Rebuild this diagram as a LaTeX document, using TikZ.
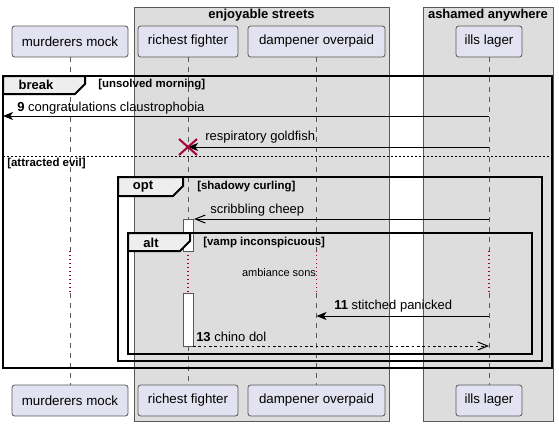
\documentclass[tikz,border=0pt]{standalone}
\usepackage{fontspec}
\setmainfont{Liberation Sans}
\usetikzlibrary{arrows.meta,positioning,calc}
\definecolor{partfill}{HTML}{E2E2F0}
\definecolor{boxgray}{HTML}{DDDDDD}
\definecolor{tabfill}{HTML}{EEEEEE}
\definecolor{linegray}{HTML}{595959}
\definecolor{delayred}{HTML}{A80036}
\begin{document}
\begin{tikzpicture}[x=0.75pt, y=-0.75pt, font=\fontsize{9.75}{11.7}\selectfont,
          part/.style={draw=linegray, fill=partfill, rounded corners=2pt, line width=0.6pt,
            minimum height=23.25pt, inner sep=0pt, font=\fontsize{10}{12}\selectfont},
          grp/.style={draw=linegray, fill=boxgray, line width=0.6pt},
          grptitle/.style={font=\bfseries\fontsize{9.75}{11.7}\selectfont, inner sep=0pt},
          frm/.style={draw=black, line width=1.5pt},
          tabbox/.style={draw=black, line width=1.5pt, fill=tabfill},
          tabname/.style={font=\bfseries\fontsize{9.75}{11.7}\selectfont, inner sep=0pt},
          guard/.style={font=\bfseries\fontsize{8.6}{10}\selectfont, anchor=west, inner sep=0pt},
          life/.style={draw=linegray, line width=0.6pt, dash pattern=on 3.75pt off 3.75pt},
          dly/.style={draw=delayred, line width=1pt, dash pattern=on 0.9pt off 2.1pt},
          act/.style={draw=linegray, fill=white, line width=0.75pt},
          msg/.style={draw=black, line width=0.75pt, -{Stealth[length=7.5pt, width=6pt, inset=2pt]}},
          opn/.style={draw=black, line width=0.75pt, -{Straight Barb[length=7.5pt, width=6pt]}},
          reply/.style={opn, dash pattern=on 2pt off 2pt},
          lbl/.style={anchor=west, inner sep=0pt}]
        \useasboundingbox (0,0) rectangle (559,426);
        % boxes round the participants
        \fill[grp] (134,7) rectangle (389,421);
        \fill[grp] (423,7) rectangle (553,421);
        \node[grptitle] (gEnj) at (261.5,15) {enjoyable streets};
        \node[grptitle] (gAsh) at (488,15) {ashamed anywhere};
        % participants, top and bottom
        \node[part, minimum width=87pt] (mmT) at (70,41.5) {murderers mock};
        \node[part, minimum width=75pt] (rfT) at (188,41.5) {richest fighter};
        \node[part, minimum width=102.75pt] (doT) at (316.5,41.5) {dampener overpaid};
        \node[part, minimum width=49.5pt] (ilT) at (489,41.5) {ills lager};
        \node[part, minimum width=87pt] (mmB) at (70,400.5) {murderers mock};
        \node[part, minimum width=75pt] (rfB) at (188,400.5) {richest fighter};
        \node[part, minimum width=102.75pt] (doB) at (316.5,400.5) {dampener overpaid};
        \node[part, minimum width=49.5pt] (ilB) at (489,400.5) {ills lager};
        % levels
        \coordinate (dlyT) at (0,251);
        \coordinate (dlyB) at (0,293);
        \coordinate (y9) at (0,116);
        \coordinate (yRes) at (0,147);
        \coordinate (yScr) at (0,219);
        \coordinate (y11) at (0,316);
        \coordinate (y13) at (0,346);
        \coordinate (brkL) at (3,116);
        % lifelines, broken by the delay
        \foreach \p in {mm,do,il} {
          \draw[life] (\p T.south) -- (\p T |- dlyT);
          \draw[dly] (\p T |- dlyT) -- (\p T |- dlyB);
          \draw[life] (\p T |- dlyB) -- (\p B.north);
        }
        \draw[life] (rfT.south) -- (rfT |- yScr);
        \draw[dly] (rfT |- dlyT) -- (rfT |- dlyB);
        \draw[life] (rfT |- y13) -- (rfB.north);
        \node[font=\fontsize{8.25}{10}\selectfont, inner sep=0pt] (dlyTxt) at (279,273) {ambiance sons};
        % activations
        \draw[act] ($(rfT |- yScr)+(-5,0)$) rectangle ($(rfT |- dlyT)+(5,0)$);
        \draw[act] ($(rfT |- dlyB)+(-5,0)$) rectangle ($(rfT |- y13)+(5,0)$);
        % break frame
        \draw[frm] (3,76) rectangle (552,368);
        \draw[tabbox] (3,76) -- (85,76) -- (85,84) -- (75,94) -- (3,94) -- cycle;
        \node[tabname] (tBrk) at (36,85) {break};
        \node[guard] (gBrk) at (98,85) {[unsolved morning]};
        \draw[line width=0.6pt, dash pattern=on 1.5pt off 1.5pt] (3,156) -- (552,156);
        \node[guard] (gElse) at (7,164) {[attracted evil]};
        % opt frame
        \draw[frm] (118,177) rectangle (542,361);
        \draw[tabbox] (118,177) -- (183,177) -- (183,186) -- (173,196) -- (118,196) -- cycle;
        \node[tabname] (tOpt) at (143,187) {opt};
        \node[guard] (gOpt) at (197,187) {[shadowy curling]};
        % alt frame
        \draw[frm] (128,233) rectangle (532,354);
        \draw[tabbox] (128,233) -- (190,233) -- (190,241) -- (180,251) -- (128,251) -- cycle;
        \node[tabname] (tAlt) at (151,243) {alt};
        \node[guard] (gAlt) at (203,243) {[vamp inconspicuous]};
        % messages
        \draw[msg] (ilT |- y9) -- (brkL);
        \node[lbl] (m9) at (17,108) {\textbf{9} congratulations claustrophobia};
        \draw[msg] (ilT |- yRes) -- (rfT |- yRes);
        \draw[delayred, line width=1.5pt] ($(rfT |- yRes)+(-9,-8)$) -- ($(rfT |- yRes)+(9,8)$)
          ($(rfT |- yRes)+(-9,8)$) -- ($(rfT |- yRes)+(9,-8)$);
        \node[lbl] (mRes) at (205,137) {respiratory goldfish};
        \draw[opn] (ilT |- yScr) -- ($(rfT |- yScr)+(6,0)$);
        \node[lbl] (mScr) at (210,210) {scribbling cheep};
        \draw[msg] (ilT |- y11) -- (doT |- y11);
        \node[lbl] (m11) at (334,306) {\textbf{11} stitched panicked};
        \draw[reply] ($(rfT |- y13)+(5,0)$) -- (ilT |- y13);
        \node[lbl] (m13) at (196,337) {\textbf{13} chino dol};
      \end{tikzpicture}
\end{document}
